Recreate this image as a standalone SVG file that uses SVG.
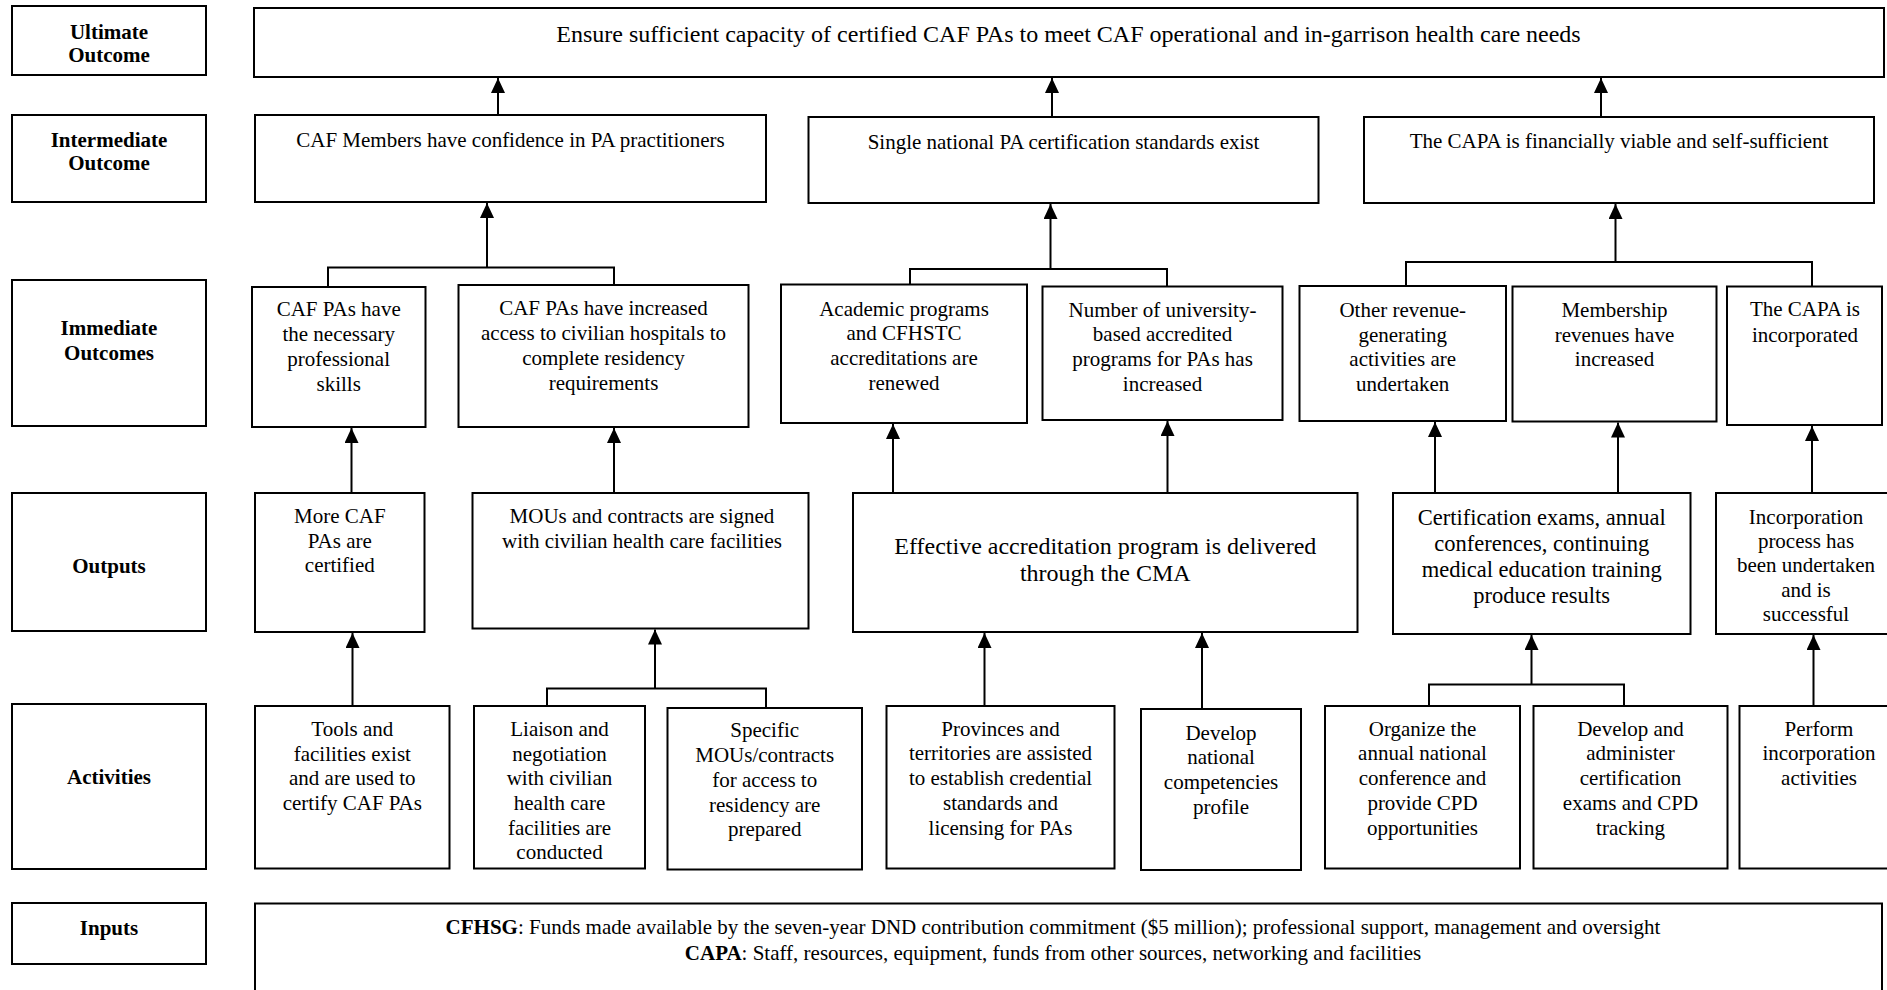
<svg xmlns="http://www.w3.org/2000/svg" width="1887" height="990" viewBox="0 0 1887 990">
<defs>
<style>
.box{fill:#fff;stroke:#000;stroke-width:2}
.t{font-family:'Liberation Serif','Times New Roman',serif;font-size:21px;text-anchor:middle;fill:#000}
.b{font-weight:bold}
.big{font-size:24px}
.mid{font-size:22.5px}
.conn{stroke:#000;stroke-width:2;fill:none}
</style>
<marker id="ah" viewBox="0 0 15 14" refX="15" refY="7" markerWidth="15" markerHeight="14" markerUnits="userSpaceOnUse" orient="auto">
<path d="M0,0 L15,7 L0,14 z" fill="#000"/>
</marker>
</defs>
<rect width="1887" height="990" fill="#fff"/>

<g id="row-labels">
<g id="lbl-ultimate"><rect class="box" x="12" y="6" width="194" height="69"/><text class="t b" x="109"><tspan x="109" y="38.5">Ultimate</tspan><tspan x="109" y="62">Outcome</tspan></text></g>
<g id="lbl-intermediate"><rect class="box" x="12" y="115" width="194" height="87"/><text class="t b" x="109"><tspan x="109" y="147">Intermediate</tspan><tspan x="109" y="170">Outcome</tspan></text></g>
<g id="lbl-immediate"><rect class="box" x="12" y="280" width="194" height="146"/><text class="t b" x="109"><tspan x="109" y="335">Immediate</tspan><tspan x="109" y="360">Outcomes</tspan></text></g>
<g id="lbl-outputs"><rect class="box" x="12" y="493" width="194" height="138"/><text class="t b" x="109" y="573">Outputs</text></g>
<g id="lbl-activities"><rect class="box" x="12" y="704" width="194" height="165"/><text class="t b" x="109" y="783.5">Activities</text></g>
<g id="lbl-inputs"><rect class="box" x="12" y="903" width="194" height="61"/><text class="t b" x="109" y="935">Inputs</text></g>
</g>

<g id="ultimate"><rect class="box" x="254" y="8" width="1630" height="69"/><text class="t big" x="1068.5" y="42">Ensure sufficient capacity of certified CAF PAs to meet CAF operational and in-garrison health care needs</text></g>

<g id="int1"><rect class="box" x="255" y="115" width="511" height="87"/><text class="t" x="510.5" y="146.5">CAF Members have confidence in PA practitioners</text></g>
<g id="int2"><rect class="box" x="808.5" y="117" width="510" height="86"/><text class="t" x="1063.5" y="149">Single national PA certification standards exist</text></g>
<g id="int3"><rect class="box" x="1364" y="117" width="510" height="86"/><text class="t" x="1619" y="148">The CAPA is financially viable and self-sufficient</text></g>

<g id="imm1"><rect class="box" x="252" y="287" width="173.5" height="140"/><text class="t"><tspan x="338.7" y="316">CAF PAs have</tspan><tspan x="338.7" y="341">the necessary</tspan><tspan x="338.7" y="366">professional</tspan><tspan x="338.7" y="391">skills</tspan></text></g>
<g id="imm2"><rect class="box" x="458.5" y="285" width="290" height="142"/><text class="t"><tspan x="603.5" y="315">CAF PAs have increased</tspan><tspan x="603.5" y="340">access to civilian hospitals to</tspan><tspan x="603.5" y="365">complete residency</tspan><tspan x="603.5" y="390">requirements</tspan></text></g>
<g id="imm3"><rect class="box" x="781" y="284.5" width="246" height="138.5"/><text class="t"><tspan x="904" y="316">Academic programs</tspan><tspan x="904" y="340">and CFHSTC</tspan><tspan x="904" y="365">accreditations are</tspan><tspan x="904" y="390">renewed</tspan></text></g>
<g id="imm4"><rect class="box" x="1042.5" y="286.5" width="240" height="133.5"/><text class="t"><tspan x="1162.5" y="317">Number of university-</tspan><tspan x="1162.5" y="341">based accredited</tspan><tspan x="1162.5" y="366">programs for PAs has</tspan><tspan x="1162.5" y="391">increased</tspan></text></g>
<g id="imm5"><rect class="box" x="1299.5" y="286" width="206.5" height="135"/><text class="t"><tspan x="1402.7" y="317">Other revenue-</tspan><tspan x="1402.7" y="342">generating</tspan><tspan x="1402.7" y="366">activities are</tspan><tspan x="1402.7" y="391">undertaken</tspan></text></g>
<g id="imm6"><rect class="box" x="1512.5" y="286.5" width="204" height="135"/><text class="t"><tspan x="1614.5" y="317">Membership</tspan><tspan x="1614.5" y="342">revenues have</tspan><tspan x="1614.5" y="366">increased</tspan></text></g>
<g id="imm7"><rect class="box" x="1727" y="286.5" width="155" height="138.5"/><text class="t"><tspan x="1805" y="316">The CAPA is</tspan><tspan x="1805" y="342">incorporated</tspan></text></g>

<g id="out1"><rect class="box" x="255" y="493" width="169.5" height="139"/><text class="t"><tspan x="339.8" y="523">More CAF</tspan><tspan x="339.8" y="547.5">PAs are</tspan><tspan x="339.8" y="572">certified</tspan></text></g>
<g id="out2"><rect class="box" x="472.5" y="493" width="336" height="135.5"/><text class="t"><tspan x="642" y="523">MOUs and contracts are signed</tspan><tspan x="642" y="547.5">with civilian health care facilities</tspan></text></g>
<g id="out3"><rect class="box" x="853" y="493" width="504.5" height="139"/><text class="t big"><tspan x="1105.3" y="553.5">Effective accreditation program is delivered</tspan><tspan x="1105.3" y="581">through the CMA</tspan></text></g>
<g id="out4"><rect class="box" x="1393" y="493" width="297.5" height="141"/><text class="t mid"><tspan x="1541.7" y="525">Certification exams, annual</tspan><tspan x="1541.7" y="551">conferences, continuing</tspan><tspan x="1541.7" y="577">medical education training</tspan><tspan x="1541.7" y="603">produce results</tspan></text></g>
<g id="out5"><rect class="box" x="1716" y="493" width="190" height="141"/><text class="t"><tspan x="1806" y="524">Incorporation</tspan><tspan x="1806" y="548">process has</tspan><tspan x="1806" y="572">been undertaken</tspan><tspan x="1806" y="596.5">and is</tspan><tspan x="1806" y="620.5">successful</tspan></text></g>

<g id="act1"><rect class="box" x="255" y="706" width="194.5" height="162.5"/><text class="t"><tspan x="352.3" y="736">Tools and</tspan><tspan x="352.3" y="760.5">facilities exist</tspan><tspan x="352.3" y="785">and are used to</tspan><tspan x="352.3" y="810">certify CAF PAs</tspan></text></g>
<g id="act2"><rect class="box" x="474" y="706" width="171" height="162.5"/><text class="t"><tspan x="559.5" y="736">Liaison and</tspan><tspan x="559.5" y="760.5">negotiation</tspan><tspan x="559.5" y="785">with civilian</tspan><tspan x="559.5" y="810">health care</tspan><tspan x="559.5" y="834.5">facilities are</tspan><tspan x="559.5" y="858.5">conducted</tspan></text></g>
<g id="act3"><rect class="box" x="667.5" y="708" width="194.5" height="161.5"/><text class="t"><tspan x="764.7" y="737">Specific</tspan><tspan x="764.7" y="762">MOUs/contracts</tspan><tspan x="764.7" y="787">for access to</tspan><tspan x="764.7" y="811.5">residency are</tspan><tspan x="764.7" y="836">prepared</tspan></text></g>
<g id="act4"><rect class="box" x="886.5" y="706" width="228" height="162.5"/><text class="t"><tspan x="1000.5" y="736">Provinces and</tspan><tspan x="1000.5" y="760">territories are assisted</tspan><tspan x="1000.5" y="785">to establish credential</tspan><tspan x="1000.5" y="810">standards and</tspan><tspan x="1000.5" y="834.5">licensing for PAs</tspan></text></g>
<g id="act5"><rect class="box" x="1141" y="709" width="160" height="161"/><text class="t"><tspan x="1221" y="740">Develop</tspan><tspan x="1221" y="763.5">national</tspan><tspan x="1221" y="788.5">competencies</tspan><tspan x="1221" y="813.5">profile</tspan></text></g>
<g id="act6"><rect class="box" x="1325" y="706" width="195" height="162.5"/><text class="t"><tspan x="1422.5" y="736">Organize the</tspan><tspan x="1422.5" y="760">annual national</tspan><tspan x="1422.5" y="785">conference and</tspan><tspan x="1422.5" y="810">provide CPD</tspan><tspan x="1422.5" y="834.5">opportunities</tspan></text></g>
<g id="act7"><rect class="box" x="1533.5" y="706" width="194" height="162.5"/><text class="t"><tspan x="1630.5" y="736">Develop and</tspan><tspan x="1630.5" y="760">administer</tspan><tspan x="1630.5" y="785">certification</tspan><tspan x="1630.5" y="810">exams and CPD</tspan><tspan x="1630.5" y="834.5">tracking</tspan></text></g>
<g id="act8"><rect class="box" x="1739.5" y="706" width="170" height="162.5"/><text class="t"><tspan x="1819" y="736">Perform</tspan><tspan x="1819" y="760">incorporation</tspan><tspan x="1819" y="785">activities</tspan></text></g>

<g id="inputs"><rect class="box" x="255" y="903.5" width="1627" height="100"/><text class="t"><tspan x="1053" y="933.5"><tspan class="b">CFHSG</tspan>: Funds made available by the seven-year DND contribution commitment ($5 million); professional support, management and oversight</tspan><tspan x="1053" y="959.5"><tspan class="b">CAPA</tspan>: Staff, resources, equipment, funds from other sources, networking and facilities</tspan></text></g>

<g id="connectors">
<path class="conn" marker-end="url(#ah)" d="M498 115 V78"/>
<path class="conn" marker-end="url(#ah)" d="M1052 117 V78"/>
<path class="conn" marker-end="url(#ah)" d="M1601 117 V78"/>
<path class="conn" d="M328 287 V267.5 H614 V285"/>
<path class="conn" marker-end="url(#ah)" d="M487 267.5 V203"/>
<path class="conn" d="M910 284.5 V269 H1167 V286.5"/>
<path class="conn" marker-end="url(#ah)" d="M1050.5 269 V204"/>
<path class="conn" d="M1406 286 V262 H1812 V286.5"/>
<path class="conn" marker-end="url(#ah)" d="M1615.5 262 V204"/>
<path class="conn" marker-end="url(#ah)" d="M351.5 493 V428"/>
<path class="conn" marker-end="url(#ah)" d="M614 493 V428"/>
<path class="conn" marker-end="url(#ah)" d="M893 493 V424"/>
<path class="conn" marker-end="url(#ah)" d="M1167.5 493 V421"/>
<path class="conn" marker-end="url(#ah)" d="M1435 493 V422"/>
<path class="conn" marker-end="url(#ah)" d="M1618 493 V422.5"/>
<path class="conn" marker-end="url(#ah)" d="M1812 493 V426"/>
<path class="conn" marker-end="url(#ah)" d="M352.5 706 V633"/>
<path class="conn" d="M547 706 V688.5 H766 V708"/>
<path class="conn" marker-end="url(#ah)" d="M655 688.5 V629.5"/>
<path class="conn" marker-end="url(#ah)" d="M984.5 706 V633"/>
<path class="conn" marker-end="url(#ah)" d="M1202 709 V633"/>
<path class="conn" d="M1429 706 V684.5 H1624 V706"/>
<path class="conn" marker-end="url(#ah)" d="M1531.5 684.5 V635"/>
<path class="conn" marker-end="url(#ah)" d="M1813.5 706 V635"/>
</g>
</svg>
